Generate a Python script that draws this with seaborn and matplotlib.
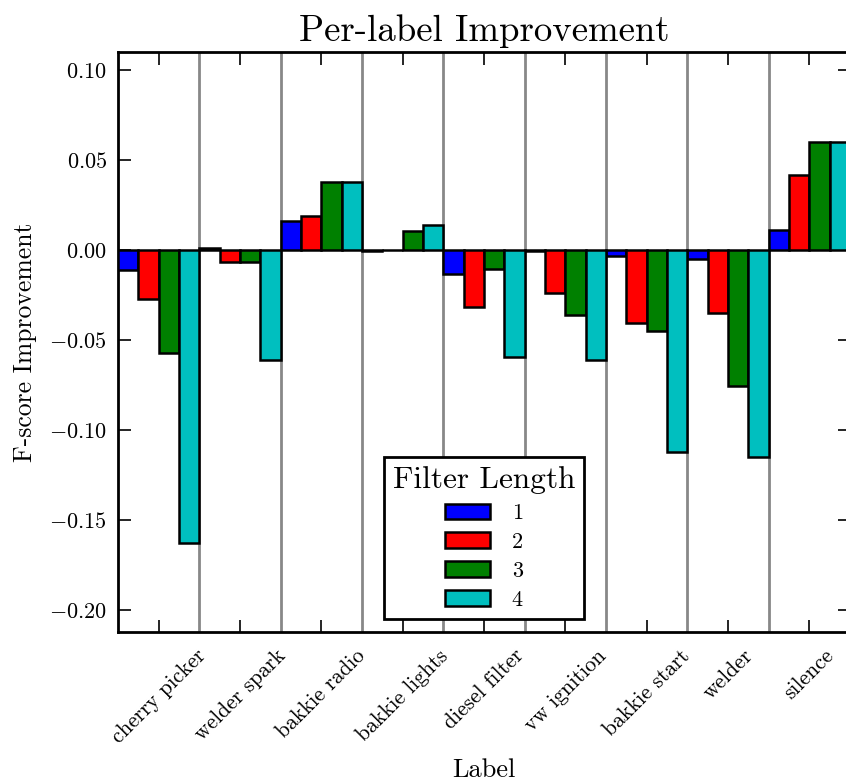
import matplotlib
matplotlib.use("Agg")
import matplotlib.pyplot as plt
import seaborn as sns
import pandas as pd
import numpy as np

labels = ["cherry picker", "welder spark", "bakkie radio", "bakkie lights",
          "diesel filter", "vw ignition", "bakkie start", "welder", "silence"]
filter_lengths = ["1", "2", "3", "4"]
len1 = [-0.011, 0.001, 0.016, -0.0005, -0.0133, -0.0003, -0.0033, -0.0052, 0.011]
len2 = [-0.027, -0.0067, 0.019, 0.0002, -0.0315, -0.024, -0.0404, -0.0348, 0.0417]
len3 = [-0.057, -0.0067, 0.0376, 0.0105, -0.0104, -0.0363, -0.045, -0.0756, 0.060]
len4 = [-0.163, -0.061, 0.0376, 0.0137, -0.0595, -0.061, -0.112, -0.1148, 0.060]
colors = ["#0000ff", "#ff0000", "#008000", "#00bfbf"]

rows = []
for fl, vals in zip(filter_lengths, [len1, len2, len3, len4]):
    for lab, v in zip(labels, vals):
        rows.append({"Label": lab, "Filter Length": fl, "value": v})
df = pd.DataFrame(rows)

sns.set_style("ticks")
plt.rcParams["font.family"] = ["cmr10", "DejaVu Serif"]
plt.rcParams["mathtext.fontset"] = "cm"
plt.rcParams["axes.formatter.use_mathtext"] = True
plt.rcParams["axes.unicode_minus"] = True
for k in ["text.color", "axes.labelcolor", "xtick.color", "ytick.color",
          "axes.edgecolor"]:
    plt.rcParams[k] = "black"

fig = plt.figure(figsize=(8.46, 7.83), dpi=100)
ax = fig.add_axes([118/846, (783-632)/783, (850-118)/846, (632-52)/783])

sns.barplot(data=df, x="Label", y="value", hue="Filter Length", order=labels,
            hue_order=filter_lengths, palette=colors, width=1.0, dodge=True,
            saturation=1, edgecolor="black", linewidth=1.8, errorbar=None,
            ax=ax, zorder=3)

for i in range(len(labels) - 1):
    ax.axvline(i + 0.5, color="#888888", lw=2, zorder=1)

ax.set_xlim(-0.5, len(labels) - 0.5)
ax.set_ylim(-0.2122, 0.11)
ax.set_yticks([-0.20, -0.15, -0.10, -0.05, 0.0, 0.05, 0.10])
ax.yaxis.set_major_formatter(matplotlib.ticker.FuncFormatter(
    lambda v, p: r"$\mathdefault{%s}$" % ("%.2f" % v).replace("-", "\u2212")))

ax.tick_params(axis="both", direction="in", length=9, width=1.2,
               top=True, right=True, labelsize=16, colors="black")
ax.tick_params(axis="x", pad=10)
ax.tick_params(axis="y", pad=8)
ax.set_xticks(range(len(labels)))
ax.set_xticklabels(labels, rotation=45, ha="center", fontsize=15.5)
for s in ax.spines.values():
    s.set_linewidth(2)
    s.set_visible(True)
    s.set_color("black")

ax.set_title("Per-label Improvement", fontsize=26.5, pad=8)
ax.set_xlabel("Label", fontsize=19, labelpad=8)
ax.set_ylabel("F-score Improvement", fontsize=18.5, labelpad=9)

leg = ax.legend(title="Filter Length", loc="lower center", fontsize=16,
                title_fontsize=22.5, frameon=True, fancybox=False,
                handlelength=2.0, handleheight=0.7, labelspacing=0.42,
                handletextpad=1.0, borderaxespad=0.6)
leg.get_frame().set_edgecolor("black")
leg.get_frame().set_linewidth(2)
leg.get_frame().set_alpha(1)

fig.savefig("out.png", dpi=100)
